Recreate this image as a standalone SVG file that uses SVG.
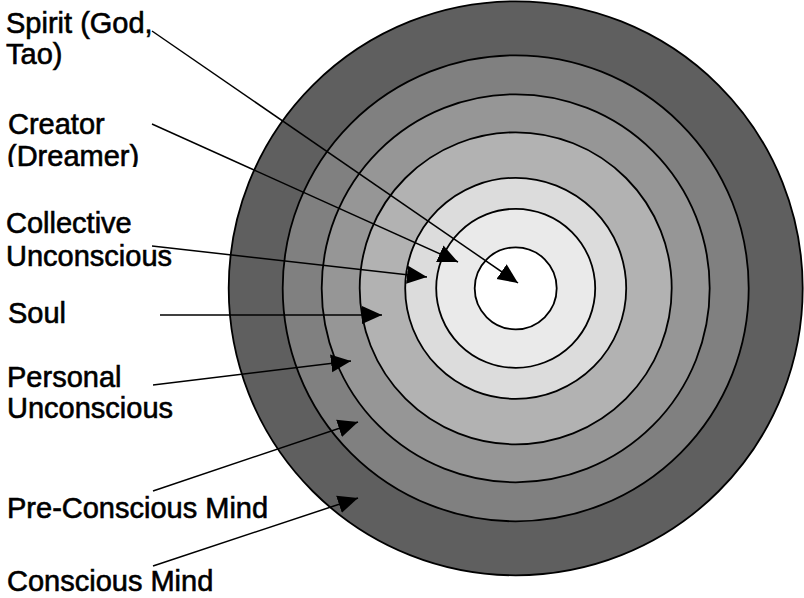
<svg xmlns="http://www.w3.org/2000/svg" width="804" height="598" viewBox="0 0 804 598">
<defs>
<style>
.ring{stroke:#000;stroke-width:1.8}
.lbl{font-family:"Liberation Sans",Arial,sans-serif;font-size:29px;fill:#000;stroke:#000;stroke-width:0.6}
.arr{stroke:#000;stroke-width:1.5;fill:none;marker-end:url(#ah)}
</style>
<marker id="ah" markerUnits="userSpaceOnUse" markerWidth="20" markerHeight="20" viewBox="0 0 20 20" refX="20" refY="10" orient="auto">
<path d="M0,1 L20,10 L0,19 z" fill="#000"/>
</marker>
<clipPath id="clipD"><rect x="0" y="140" width="200" height="27"/></clipPath>
</defs>
<rect width="804" height="598" fill="#fff"/>
<g id="rings">
<circle id="conscious-mind" class="ring" cx="515.7" cy="288.3" r="287" fill="#5f5f5f"/>
<circle id="pre-conscious-mind" class="ring" cx="515.7" cy="288.3" r="233" fill="#808080"/>
<circle id="personal-unconscious" class="ring" cx="515.7" cy="288.3" r="194" fill="#969696"/>
<circle id="soul" class="ring" cx="515.7" cy="288.3" r="156" fill="#b2b2b2"/>
<circle id="collective-unconscious" class="ring" cx="515.7" cy="288.3" r="110.5" fill="#dcdcdc"/>
<circle id="creator" class="ring" cx="515.7" cy="288.3" r="79.5" fill="#eaeaea"/>
<circle id="spirit" class="ring" cx="515.7" cy="288.3" r="41" fill="#fff"/>
</g>
<g id="labels">
<g id="label-spirit"><text class="lbl" x="6" y="33">Spirit (God,</text><text class="lbl" x="6" y="64">Tao)</text></g>
<g id="label-creator"><text class="lbl" x="8" y="134">Creator</text><g clip-path="url(#clipD)"><text class="lbl" x="7" y="166">(Dreamer)</text></g></g>
<g id="label-collective"><text class="lbl" x="6" y="233">Collective</text><text class="lbl" x="6" y="266">Unconscious</text></g>
<g id="label-soul"><text class="lbl" x="8" y="323">Soul</text></g>
<g id="label-personal"><text class="lbl" x="7" y="387">Personal</text><text class="lbl" x="7" y="418">Unconscious</text></g>
<g id="label-preconscious"><text class="lbl" x="7" y="518">Pre-Conscious Mind</text></g>
<g id="label-conscious"><text class="lbl" x="7" y="591">Conscious Mind</text></g>
</g>
<g id="connectors">
<line class="arr" x1="152" y1="31" x2="518" y2="283"/>
<line class="arr" x1="152" y1="124" x2="458" y2="262"/>
<line class="arr" x1="152" y1="246" x2="427" y2="277"/>
<line class="arr" x1="160" y1="315" x2="382" y2="315"/>
<line class="arr" x1="153" y1="385" x2="351" y2="361"/>
<line class="arr" x1="153" y1="491" x2="358" y2="422"/>
<line class="arr" x1="153" y1="566" x2="358" y2="498"/>
</g>
</svg>
